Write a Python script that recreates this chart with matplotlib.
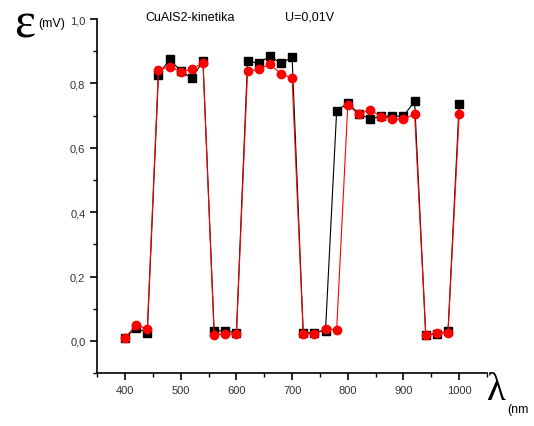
import matplotlib
matplotlib.use("Agg")
import matplotlib.pyplot as plt
from matplotlib.ticker import MultipleLocator, FuncFormatter

wavelength = [400, 420, 440, 460, 480, 500, 520, 540, 560, 580, 600, 620, 640, 660, 680, 700,
              720, 740, 760, 780, 800, 820, 840, 860, 880, 900, 920, 940, 960, 980, 1000]
series_black = [0.010, 0.040, 0.025, 0.826, 0.875, 0.839, 0.816, 0.869, 0.031, 0.031, 0.025,
                0.869, 0.863, 0.885, 0.862, 0.882, 0.025, 0.025, 0.032, 0.714, 0.740, 0.705,
                0.690, 0.698, 0.698, 0.698, 0.745, 0.018, 0.022, 0.030, 0.735]
series_red = [0.009, 0.050, 0.037, 0.842, 0.852, 0.836, 0.844, 0.864, 0.019, 0.022, 0.020,
              0.838, 0.844, 0.860, 0.830, 0.816, 0.022, 0.022, 0.038, 0.034, 0.732, 0.705,
              0.718, 0.697, 0.690, 0.688, 0.706, 0.018, 0.024, 0.026, 0.704]

plt.rcParams['font.family'] = ['Liberation Sans', 'DejaVu Sans']

fig = plt.figure(figsize=(5.34, 4.27), dpi=100)
ax = fig.add_axes([0.182, 0.124, 0.730, 0.829])

ax.plot(wavelength, series_black, color='black', lw=0.8, marker='s', ms=5.5,
        markerfacecolor='black', markeredgecolor='black', zorder=2)
ax.plot(wavelength, series_red, color='red', lw=0.8, marker='o', ms=6,
        markerfacecolor='red', markeredgecolor='red', zorder=3)

ax.set_xlim(350, 1050)
ax.set_ylim(-0.1, 1.0)
for s in ['top', 'right']:
    ax.spines[s].set_visible(False)
for s in ['left', 'bottom']:
    ax.spines[s].set_linewidth(1.2)

ax.xaxis.set_major_locator(MultipleLocator(100))
ax.xaxis.set_minor_locator(MultipleLocator(50))
ax.yaxis.set_major_locator(MultipleLocator(0.2))
ax.yaxis.set_minor_locator(MultipleLocator(0.1))
ax.set_xticks([400, 500, 600, 700, 800, 900, 1000])
ax.set_yticks([0.0, 0.2, 0.4, 0.6, 0.8, 1.0])
ax.yaxis.set_major_formatter(FuncFormatter(lambda v, p: f"{v:.1f}".replace('.', ',')))
ax.tick_params(which='major', direction='out', length=5, width=1.2, labelsize=8,
               labelcolor='#333333')
ax.tick_params(which='minor', direction='out', length=3, width=1.0)

fig.text(0.026, 0.942, "ε", fontsize=36, family='Liberation Serif', va='center', ha='left')
fig.text(0.071, 0.943, "(mV)", fontsize=9, va='center', ha='left')
fig.text(0.272, 0.958, "CuAlS2-kinetika", fontsize=9, va='center', ha='left')
fig.text(0.533, 0.958, "U=0,01V", fontsize=9, va='center', ha='left')
fig.text(0.912, 0.085, "λ", fontsize=28, family='Liberation Serif', va='center', ha='left')
fig.text(0.950, 0.040, "(nm", fontsize=9, va='center', ha='left')

fig.savefig("out.png", dpi=100)
